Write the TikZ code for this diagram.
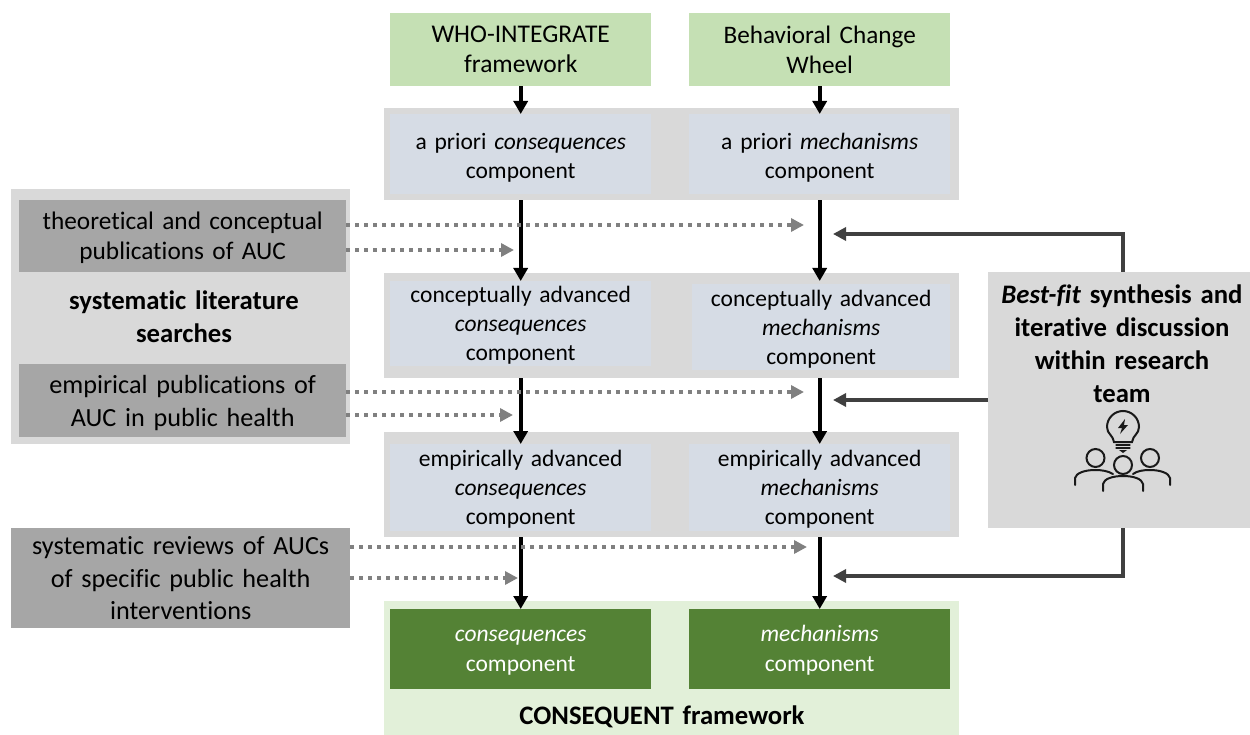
\documentclass[tikz,border=0pt]{standalone}
\usepackage{fontspec}
\setmainfont[Ligatures=NoCommon]{Carlito}
\usetikzlibrary{positioning, calc, arrows.meta}

\definecolor{lightgreen}{HTML}{C5E0B4}
\definecolor{palegreen}{HTML}{E2F0D9}
\definecolor{darkgreen}{HTML}{548235}
\definecolor{palegrey}{HTML}{D9D9D9}
\definecolor{midgrey}{HTML}{A6A6A6}
\definecolor{paleblue}{HTML}{D6DCE5}

\tikzset{
	bsize/.style 2 args={minimum width=#1pt, minimum height=#2pt, text width=#1pt},
	fs/.style 2 args={font=\fontsize{#1}{#2}\selectfont},
	nudge/.style={execute at begin node={\rule{0pt}{\dimexpr17pt+#1pt\relax}}},
	box/.style={anchor=north west, align=center, inner sep=0pt, fs={23.5}{29}},
	band/.style={anchor=north west, inner sep=0pt, fill=palegrey},
	mainarrow/.style={line width=4.2pt, black, -{Triangle[length=13pt, width=14pt]}},
	litarrow/.style={line width=4pt, gray, dash pattern=on 4pt off 5pt, -{Triangle[length=13pt, width=13pt]}},
	teamarrow/.style={line width=4pt, black!75, -{Triangle[length=13pt, width=13pt]}},
	icon/.style={line width=2pt, black!90, line cap=round}
}

\begin{document}
\begin{tikzpicture}[x=1pt, y=-1pt]
	\useasboundingbox (0,0) rectangle (1250,735);

	% backgrounds
	\node[band, bsize={575}{92}] (banda) at (384,108) {};
	\node[band, bsize={575}{105}] (bandb) at (384,273) {};
	\node[band, bsize={575}{105}] (bandc) at (384,432) {};
	\node[band, fill=palegreen, bsize={575}{134}] (bandd) at (384,601) {};
	\node[band, bsize={339}{255}] (bandlit) at (11,189) {};

	% top frameworks
	\node[box, fs={25.5}{30}, fill=lightgreen, bsize={261}{73}] (who) at (390,13) {WHO-INTEGRATE\\framework};
	\node[box, fs={25.2}{30}, fill=lightgreen, bsize={261}{73}] (bcw) at (689,13) {Behavioral Change\\Wheel};

	% components
	\node[box, nudge=7, fill=paleblue, bsize={261}{80}] (cona) at (390,114) {a priori \textit{consequences}\\component};
	\node[box, nudge=7, fill=paleblue, bsize={261}{80}] (mecha) at (689,114) {a priori \textit{mechanisms}\\component};
	\node[box, nudge=2, fill=paleblue, bsize={261}{85}] (conb) at (390,281) {conceptually advanced\\\textit{consequences}\\component};
	\node[box, nudge=3, fill=paleblue, bsize={258}{86}] (mechb) at (692,284) {conceptually advanced\\\textit{mechanisms}\\component};
	\node[box, nudge=3, fill=paleblue, bsize={261}{87}] (conc) at (390,444) {empirically advanced\\\textit{consequences}\\component};
	\node[box, nudge=3, fill=paleblue, bsize={261}{87}] (mechc) at (689,444) {empirically advanced\\\textit{mechanisms}\\component};
	\node[box, nudge=2, fs={23.5}{30}, fill=darkgreen, text=white, bsize={261}{80}] (cond) at (390,609) {\textit{consequences}\\component};
	\node[box, nudge=2, fs={23.5}{30}, fill=darkgreen, text=white, bsize={261}{80}] (mechd) at (689,609) {\textit{mechanisms}\\component};
	\node[box, fs={26.7}{30}, anchor=center, text width=500pt] (consequent) at (662,717) {\textbf{CONSEQUENT framework}};

	% literature
	\node[box, nudge=4, fs={25.3}{30}, fill=midgrey, bsize={327}{72}] (theory) at (19,200) {theoretical and conceptual\\publications of AUC};
	\node[box, fs={26.7}{33}, anchor=center, text width=320pt] (search) at (184,317) {\textbf{systematic literature}\\\textbf{searches}};
	\node[box, nudge=5, fs={26.2}{33}, fill=midgrey, bsize={327}{73}] (empiric) at (19,364) {empirical publications of\\AUC in public health};
	\node[box, fs={26.2}{32.5}, fill=midgrey, bsize={339}{100}] (reviews) at (11,528) {systematic reviews of AUCs\\of specific public health\\interventions};

	% synthesis
	\node[box, fill=palegrey, bsize={262}{256}] (team) at (988,272) {};
	\node[box, fs={26.7}{33}, anchor=north, text width=262pt] (teamtext) at (1122,285) {\textbf{\textit{Best-fit} synthesis and}\\\textbf{iterative discussion}\\\textbf{within research}\\\textbf{team}};

	% vertical arrows
	\draw[mainarrow] (who.south) -- (cona.north);
	\draw[mainarrow] (bcw.south) -- (mecha.north);
	\draw[mainarrow] (banda.south -| who.south) -- (conb.north);
	\draw[mainarrow] (banda.south -| bcw.south) -- (conb.north -| bcw.south);
	\draw[mainarrow] (bandb.south -| who.south) -- (conc.north);
	\draw[mainarrow] (bandb.south -| bcw.south) -- (mechc.north);
	\draw[mainarrow] (bandc.south -| who.south) -- (cond.north);
	\draw[mainarrow] (bandc.south -| bcw.south) -- (mechd.north);

	% dotted arrows
	\coordinate (tipa) at (804,225);
	\coordinate (tipb) at (514,250);
	\coordinate (tipc) at (804,392);
	\coordinate (tipd) at (513,415);
	\coordinate (tipe) at (807,547);
	\coordinate (tipf) at (518,578);
	\draw[litarrow] (tipa -| theory.east) -- (tipa);
	\draw[litarrow] (tipb -| theory.east) -- (tipb);
	\draw[litarrow] (tipc -| empiric.east) -- (tipc);
	\draw[litarrow] (tipd -| empiric.east) -- (tipd);
	\draw[litarrow] (tipe -| reviews.east) -- (tipe);
	\draw[litarrow] (tipf -| reviews.east) -- (tipf);

	% arrows from the team
	\coordinate (feeda) at (833,234);
	\coordinate (feedb) at (833,400);
	\coordinate (feedc) at (833,576);
	\draw[teamarrow] (team.north -| 1123,0) |- (feeda);
	\draw[teamarrow] (feedb -| team.west) -- (feedb);
	\draw[teamarrow] (team.south -| 1123,0) |- (feedc);

	% bulb
	\draw[icon] (1114,442) .. controls (1113,435) and (1107,434) .. (1107,427)
		arc[start angle=180, end angle=360, radius=16] .. controls (1139,434) and (1133,435) .. (1132,442) -- cycle;
	\draw[icon, line width=1.2pt] (1116,445) -- (1130,445) (1116,448) -- (1130,448);
	\fill[black!90] (1119,450) -- (1127,450) -- (1123,453) -- cycle;
	\fill[black!90] (1125,419) -- (1118,428) -- (1122,428) -- (1120,434) -- (1128,425) -- (1124,425) -- cycle;
	% people
	\foreach \x/\y in {1095.5/458, 1123/465, 1150/458}
		\draw[icon] (\x,\y) circle[radius=9];
	\draw[icon] (1103,491) -- (1103,484) .. controls (1104,479) and (1112,476) .. (1123,476) .. controls (1134,476) and (1142,479) .. (1143,484) -- (1143,491);
	\draw[icon] (1075,485) -- (1075,478) .. controls (1076,473) and (1085,470) .. (1095,470) .. controls (1102,470) and (1108,471) .. (1113,474);
	\draw[icon] (1170,485) -- (1170,478) .. controls (1169,473) and (1160,470) .. (1150,470) .. controls (1143,470) and (1137,471) .. (1133,474);
\end{tikzpicture}
\end{document}
